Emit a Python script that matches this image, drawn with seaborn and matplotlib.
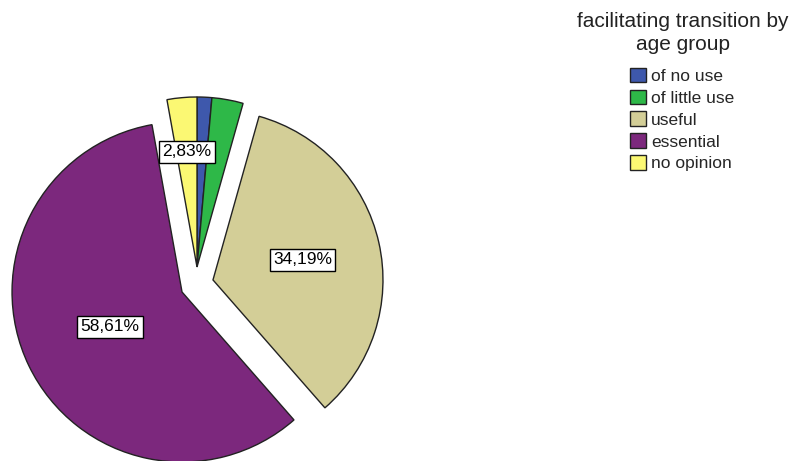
import matplotlib
matplotlib.use("Agg")
import matplotlib.pyplot as plt
import numpy as np
import seaborn as sns

# Share of answers per category (percent)
categories = ["of no use", "of little use", "useful", "essential", "no opinion"]
shares = [1.40, 2.97, 34.19, 58.61, 2.83]
show_label = [False, False, True, True, True]
legend_title = "facilitating transition by\nage group"
# pulled-out slices: offset of each slice's tip, in pie radii (x right, y up)
slice_offset = [(0.0, 0.0), (0.0, 0.0), (0.094, -0.076), (-0.088, -0.147), (0.0, 0.0)]
label_radius = [0.6, 0.6, 0.54, 0.47, 0.68]

colors = sns.color_palette(["#3E58AC", "#2EB848", "#D3CE97", "#7C287D", "#FBF873"])

sns.set_theme(style="white")
plt.rcParams["font.family"] = ["Liberation Sans", "DejaVu Sans"]

W, H = 794, 461
fig = plt.figure(figsize=(W / 100, H / 100), dpi=100)

# pie centre and radius in pixels
cx, cy, R = 197, 267, 170
ax = fig.add_axes([0, 0, 400 / W, 1])

wedges, _ = ax.pie(
    shares, colors=colors, startangle=90, counterclock=False,
    radius=1.0, wedgeprops=dict(edgecolor="#222222", linewidth=1.0),
)
ax.set_xlim(-cx / R, (400 - cx) / R)
ax.set_ylim(-(H - cy) / R, cy / R)
ax.set_aspect("equal")
ax.axis("off")

for w, val, show, rf, off in zip(wedges, shares, show_label, label_radius, slice_offset):
    w.set_center(off)
    if not show:
        continue
    mid = np.deg2rad((w.theta1 + w.theta2) / 2)
    x = off[0] + rf * np.cos(mid)
    y = off[1] + rf * np.sin(mid)
    txt = f"{val:.2f}%".replace(".", ",")
    ax.text(x, y, txt, ha="center", va="center", fontsize=12.5, color="black",
            bbox=dict(boxstyle="square,pad=0.2", facecolor="white",
                      edgecolor="black", linewidth=1.0))

# legend heading
fig.text(683 / W, 1 - 12 / H, legend_title, ha="center", va="top",
         fontsize=15, linespacing=1.27, color="#222222")

leg = fig.legend(
    wedges, categories,
    loc="upper center", bbox_to_anchor=(682 / W, 1 - 59 / H), frameon=False,
    fontsize=12.5, handlelength=0.92, handleheight=0.92,
    handletextpad=0.32, labelspacing=0.32, borderpad=0.0,
)
for h in leg.legend_handles:
    h.set_edgecolor("#222222")
    h.set_linewidth(1.0)

fig.savefig("out.png", dpi=100)
